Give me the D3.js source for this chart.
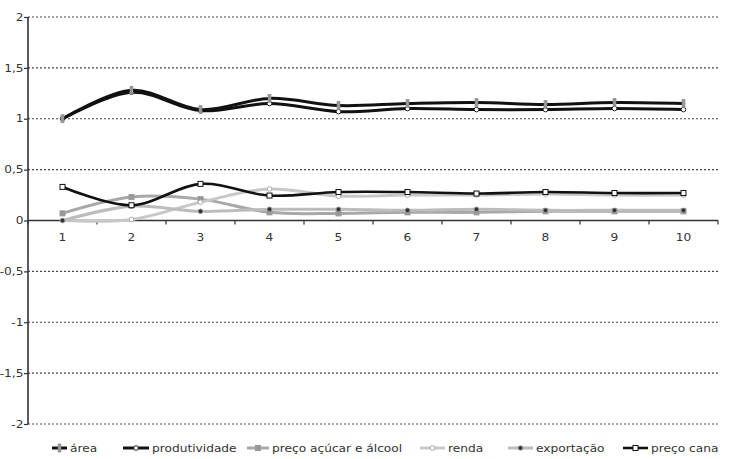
<!DOCTYPE html>
<html><head><meta charset="utf-8">
<script src="https://cdn.jsdelivr.net/npm/d3@7"></script>
<style>body{margin:0;background:#fff}svg{display:block}text{font-family:"DejaVu Sans",Verdana,sans-serif}</style>
</head><body>
<svg id="c" width="729" height="459"></svg>
<script>
const categories = [1,2,3,4,5,6,7,8,9,10];
const yTicks = [2,1.5,1,0.5,0,-0.5,-1,-1.5,-2];
const seriesNames = ["área","produtividade","preço açúcar e álcool","renda","exportação","preço cana"];
const area          = [1.00,1.28,1.09,1.20,1.13,1.15,1.16,1.14,1.16,1.15];
const produtividade = [1.00,1.26,1.08,1.15,1.07,1.10,1.09,1.09,1.10,1.09];
const precoAcucar   = [0.07,0.23,0.21,0.08,0.07,0.08,0.08,0.09,0.09,0.09];
const renda         = [0.00,0.01,0.18,0.31,0.24,0.25,0.25,0.26,0.25,0.25];
const exportacao    = [0.00,0.14,0.09,0.11,0.11,0.10,0.11,0.10,0.10,0.10];
const precoCana     = [0.33,0.15,0.36,0.245,0.28,0.28,0.265,0.28,0.27,0.27];

const SX = 1.22; // horizontal text stretch
const svg = d3.select("#c");
const mLeft = 28, mRight = 718, mTop = 17, mBottom = 424;
const x = d3.scaleBand().domain(categories).range([mLeft,mRight]);
const y = d3.scaleLinear().domain([-2,2]).range([mBottom,mTop]);
const cx = d => x(d) + x.bandwidth()/2;

// grid
svg.append("g").selectAll("line").data(yTicks.filter(v=>v!==0)).join("line")
  .attr("x1",mLeft).attr("x2",mRight).attr("y1",d=>y(d)).attr("y2",d=>y(d))
  .attr("stroke","#444").attr("stroke-width",1.2).attr("stroke-dasharray","2,2");

// y axis
const fmt = d => String(d).replace(".",",");
const ya = svg.append("g").attr("transform",`translate(${mLeft},0)`)
  .call(d3.axisLeft(y).tickValues(yTicks).tickFormat(fmt).tickSize(4).tickPadding(2));
ya.select(".domain").attr("stroke","#333").attr("stroke-width",1.6).attr("d",`M0,${mTop}V${mBottom}`);
ya.selectAll(".tick line").attr("stroke","#333").attr("stroke-width",1.2);
ya.selectAll("text").attr("font-size",10).attr("fill","#333")
  .attr("x",-4.5/SX).attr("transform",`scale(${SX},1)`);

// x axis at 0
const xa = svg.append("g").attr("transform",`translate(0,${y(0)})`)
  .call(d3.axisBottom(x).tickSize(0).tickPadding(13));
xa.select(".domain").attr("stroke","#333").attr("stroke-width",1.6).attr("d",`M${mLeft},0H${mRight}`);
xa.selectAll("text").attr("font-size",10).attr("fill","#333").attr("transform",`scale(${SX},1)`);
const bounds = categories.map(c=>x(c)).concat([mRight]);
xa.append("g").selectAll("line").data(bounds).join("line")
  .attr("x1",d=>d).attr("x2",d=>d).attr("y1",0).attr("y2",4).attr("stroke","#333").attr("stroke-width",1.2);

const series = [
  {name:seriesNames[2], vals:precoAcucar, color:"#a8a8a8", w:3, marker:"square", mfill:"#999", mstroke:"#999"},
  {name:seriesNames[3], vals:renda, color:"#c8c8c8", w:3, marker:"circle", mfill:"#fff", mstroke:"#aaa"},
  {name:seriesNames[4], vals:exportacao, color:"#bcbcbc", w:3, marker:"dot", mfill:"#333", mstroke:"#333"},
  {name:seriesNames[5], vals:precoCana, color:"#111", w:2.6, marker:"square", mfill:"#fff", mstroke:"#111"},
  {name:seriesNames[1], vals:produtividade, color:"#111", w:3, marker:"circle", mfill:"#fff", mstroke:"#222"},
  {name:seriesNames[0], vals:area, color:"#111", w:3, marker:"bar", mfill:"#999", mstroke:"#888"}
];
const line = d3.line().x((d,i)=>cx(categories[i])).y(d=>y(d)).curve(d3.curveCatmullRom.alpha(0));

function drawMarker(g, s, px, py){
  if(s.marker==="square") g.append("rect").attr("x",px-2.5).attr("y",py-2.5).attr("width",5).attr("height",5)
     .attr("fill",s.mfill).attr("stroke",s.mstroke).attr("stroke-width",1);
  else if(s.marker==="circle") g.append("circle").attr("cx",px).attr("cy",py).attr("r",2.3)
     .attr("fill",s.mfill).attr("stroke",s.mstroke).attr("stroke-width",1);
  else if(s.marker==="dot") g.append("circle").attr("cx",px).attr("cy",py).attr("r",2.3)
     .attr("fill",s.mfill).attr("stroke","#999").attr("stroke-width",0.8);
  else g.append("rect").attr("x",px-1.5).attr("y",py-4).attr("width",3).attr("height",8)
     .attr("fill",s.mfill).attr("stroke",s.mstroke).attr("stroke-width",0.6);
}

series.forEach(s=>{
  const g = svg.append("g");
  g.append("path").attr("d",line(s.vals)).attr("fill","none").attr("stroke",s.color).attr("stroke-width",s.w);
  s.vals.forEach((v,i)=>drawMarker(g,s,cx(categories[i]),y(v)));
});

// legend
const legendPos = [[52,70],[123,152],[247,272],[420,448],[508,536],[623,651]];
const legOrder = [5,4,0,1,2,3];
legOrder.forEach((si,k)=>{
  const s = series[si];
  const [lx,tx] = legendPos[k];
  const g = svg.append("g");
  const lw = (tx-3)-lx;
  g.append("line").attr("x1",lx).attr("x2",lx+lw).attr("y1",448).attr("y2",448)
    .attr("stroke",s.color).attr("stroke-width",s.w);
  drawMarker(g,s,lx+lw/2,448);
  g.append("g").attr("transform",`translate(${tx},452) scale(${SX},1)`)
    .append("text").attr("font-size",10).attr("fill","#333").text(s.name);
});
</script>
</body></html>
